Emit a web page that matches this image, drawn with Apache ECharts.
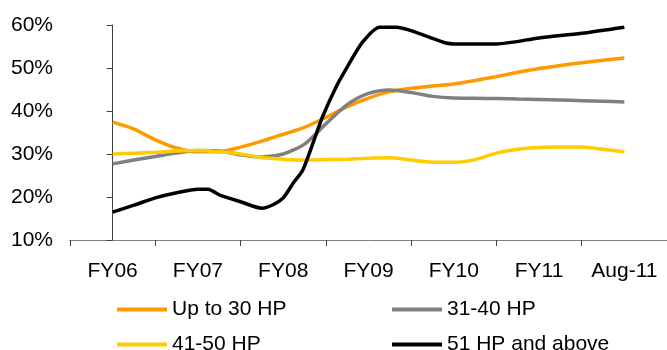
<!DOCTYPE html>
<html>
<head>
<meta charset="utf-8">
<script src="https://cdn.jsdelivr.net/npm/echarts@6/dist/echarts.min.js"></script>
<style>html,body{margin:0;padding:0;background:#fff}#c{width:667px;height:350px}</style>
</head>
<body>
<div id="c"></div>
<script>
// Category labels on the x axis
var categories = ['FY06', 'FY07', 'FY08', 'FY09', 'FY10', 'FY11', 'Aug-11'];
// Quarterly time positions (0 = FY06, 6 = Aug-11)
var quarters = [0, 0.25, 0.5, 0.75, 1, 1.25, 1.5, 1.75, 2, 2.25, 2.5, 2.75, 3, 3.25, 3.5, 3.75, 4, 4.25, 4.5, 4.75, 5, 5.25, 5.5, 5.75, 6];
var seriesNames = ['Up to 30 HP', '31-40 HP', '41-50 HP', '51 HP and above'];
var upTo30 = [37.4, 35.8, 33.3, 31.4, 30.5, 30.5, 31.6, 33.0, 34.6, 36.2, 38.5, 41.0, 43.0, 44.5, 45.3, 45.8, 46.3, 47.1, 48.0, 49.0, 49.9, 50.6, 51.2, 51.8, 52.3];
var hp31to40 = [27.7, 28.6, 29.4, 30.2, 30.8, 30.7, 29.8, 29.3, 30.0, 32.3, 37.0, 41.5, 44.1, 44.9, 44.3, 43.4, 43.0, 42.95, 42.9, 42.8, 42.7, 42.55, 42.4, 42.25, 42.1];
var hp41to50 = [30.0, 30.2, 30.4, 30.7, 30.8, 30.5, 30.0, 29.2, 28.8, 28.6, 28.7, 28.8, 29.0, 29.1, 28.6, 28.1, 28.1, 28.7, 30.2, 31.1, 31.5, 31.6, 31.6, 31.1, 30.5];
var hp51Time = [0, 0.25, 0.5, 0.75, 1, 1.12, 1.25, 1.5, 1.75, 1.88, 2, 2.12, 2.23, 2.35, 2.46, 2.62, 2.75, 2.93, 3.13, 3.33, 3.48, 3.71, 3.91, 4, 4.5, 5, 5.5, 6];
var hp51 = [16.5, 18.1, 19.8, 21.0, 21.8, 21.8, 20.5, 18.9, 17.4, 18.2, 19.8, 23.3, 26.3, 32.6, 38.6, 45.6, 50.2, 56.0, 59.5, 59.5, 58.8, 57.2, 55.8, 55.6, 55.6, 57.0, 58.1, 59.5];
var yTicks = [10, 20, 30, 40, 50, 60];

var colors = ['#FF9900', '#808080', '#FFCC00', '#000000'];
var font = 'Arial, "Liberation Sans", sans-serif';

function pairs(xs, ys) { return xs.map(function (x, i) { return [x, ys[i]]; }); }

var values = [pairs(quarters, upTo30), pairs(quarters, hp31to40), pairs(quarters, hp41to50), pairs(hp51Time, hp51)];

var chart = echarts.init(document.getElementById('c'), null, { renderer: 'canvas' });

function legendAt(name, left, top) {
  return {
    data: [name], left: left, top: top, icon: 'rect', itemWidth: 50, itemHeight: 4,
    padding: 0, textStyle: { fontFamily: font, fontSize: 21, color: '#000' }
  };
}

chart.setOption({
  animation: false,
  color: colors,
  grid: { left: 70, top: 25, width: 600, height: 215, containLabel: false },
  legend: [
    legendAt(seriesNames[0], 117, 299),
    legendAt(seriesNames[1], 392, 299),
    legendAt(seriesNames[2], 117, 334),
    legendAt(seriesNames[3], 392, 334)
  ],
  xAxis: [{
    type: 'category', data: categories, boundaryGap: true,
    axisLine: { lineStyle: { color: '#7f7f7f', width: 1 } },
    axisTick: { show: true, length: 6, lineStyle: { color: '#404040' } },
    axisLabel: { fontFamily: font, fontSize: 21, color: '#000', margin: 21, interval: 0 },
    splitLine: { show: false }
  }, {
    type: 'value', min: -0.5, max: 6.5, show: false
  }],
  yAxis: {
    type: 'value', min: yTicks[0], max: yTicks[yTicks.length - 1], interval: 10,
    axisLine: { show: true, lineStyle: { color: '#404040', width: 1 } },
    axisTick: { show: true, length: 6, lineStyle: { color: '#404040' } },
    axisLabel: { fontFamily: font, fontSize: 21, color: '#000', margin: 17, formatter: '{value}%' },
    splitLine: { show: false }
  },
  series: seriesNames.map(function (n, i) {
    return {
      name: n, type: 'line', xAxisIndex: 1, data: values[i], smooth: 0.25,
      showSymbol: false, symbol: 'none', lineStyle: { width: 3.5, color: colors[i] }, z: 2 + i
    };
  })
});
</script>
</body>
</html>
